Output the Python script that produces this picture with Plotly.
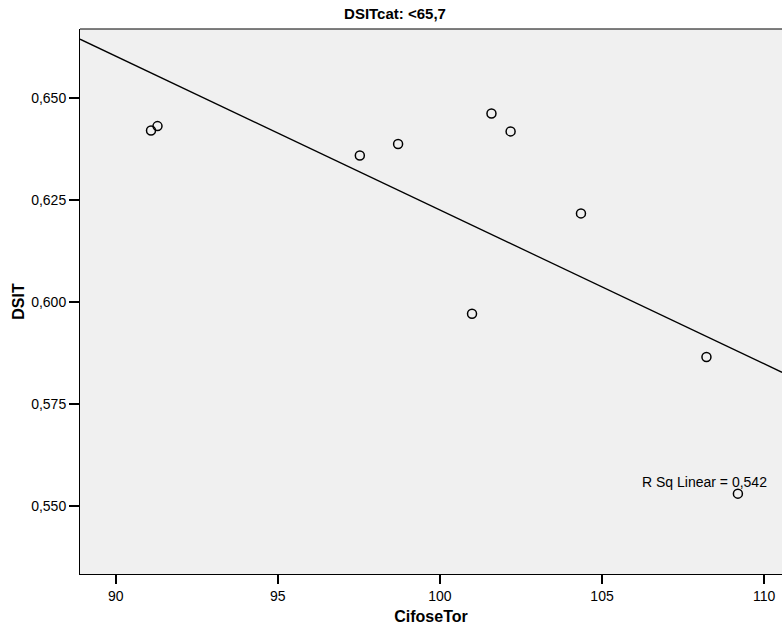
import numpy as np
import plotly.graph_objects as go

# Data
cifose_tor = [91.09, 91.29, 97.53, 98.71, 101.59, 102.18, 104.35, 100.99, 108.22, 109.19]
dsit = [0.6420, 0.6431, 0.6359, 0.6387, 0.6462, 0.6418, 0.6217, 0.5971, 0.5865, 0.5530]

x_range = [88.90, 110.55]
y_range = [0.5333, 0.6669]
x_ticks = [90, 95, 100, 105, 110]
y_ticks = [0.550, 0.575, 0.600, 0.625, 0.650]

title_text = "DSITcat: <65,7"
x_title = "CifoseTor"
y_title = "DSIT"

# Linear fit
xa = np.array(cifose_tor)
ya = np.array(dsit)
slope, intercept = np.polyfit(xa, ya, 1)
pred = slope * xa + intercept
r2 = 1 - np.sum((ya - pred) ** 2) / np.sum((ya - ya.mean()) ** 2)
fit_x = np.array(x_range)
fit_y = slope * fit_x + intercept
r2_label = "R Sq Linear = " + f"{r2:.3f}".replace(".", ",")

FONT = "Liberation Sans, Arial, sans-serif"

fig = go.Figure()
fig.add_trace(go.Scatter(
    x=fit_x, y=fit_y, mode="lines",
    line=dict(color="black", width=1.3),
    showlegend=False, hoverinfo="skip", cliponaxis=True,
))
fig.add_trace(go.Scatter(
    x=cifose_tor, y=dsit, mode="markers",
    marker=dict(symbol="circle", size=9, color="rgba(0,0,0,0)",
                line=dict(color="black", width=1.5)),
    showlegend=False,
))

fig.add_annotation(
    x=106.18, y=0.5558, xref="x", yref="y",
    text=r2_label, showarrow=False, xanchor="left", yanchor="middle",
    font=dict(family=FONT, size=14, color="black"),
)

# top border
fig.add_shape(type="line", xref="paper", yref="paper", x0=0, x1=1, y0=1, y1=1,
              line=dict(color="black", width=1))

fig.update_layout(
    width=782, height=628,
    margin=dict(l=80, r=0, t=29, b=54),
    paper_bgcolor="white",
    plot_bgcolor="#F0F0F0",
    separators=", ",
    font=dict(family=FONT, size=14, color="black"),
    title=dict(
        text="<b>" + title_text + "</b>",
        x=395 / 782, xref="container", xanchor="center",
        y=1 - 14 / 628, yref="container", yanchor="middle",
        font=dict(family=FONT, size=15, color="black"),
    ),
    xaxis=dict(
        range=x_range, tickvals=x_ticks, ticktext=[str(v) for v in x_ticks],
        showgrid=False, zeroline=False,
        showline=True, linecolor="black", linewidth=1,
        ticks="outside", ticklen=9, tickwidth=1.5, tickcolor="black",
        tickfont=dict(family=FONT, size=14),
        title=dict(text="<b>" + x_title + "</b>", standoff=8,
                   font=dict(family=FONT, size=16)),
    ),
    yaxis=dict(
        range=y_range, tickvals=y_ticks,
        ticktext=[f"{v:.3f}".replace(".", ",") for v in y_ticks],
        showgrid=False, zeroline=False,
        showline=True, linecolor="black", linewidth=1,
        ticks="outside", ticklen=10, tickwidth=1.5, tickcolor="black",
        tickfont=dict(family=FONT, size=14),
        title=dict(text="<b>" + y_title + "</b>", standoff=2,
                   font=dict(family=FONT, size=16)),
    ),
)

fig.write_html("out.html")
